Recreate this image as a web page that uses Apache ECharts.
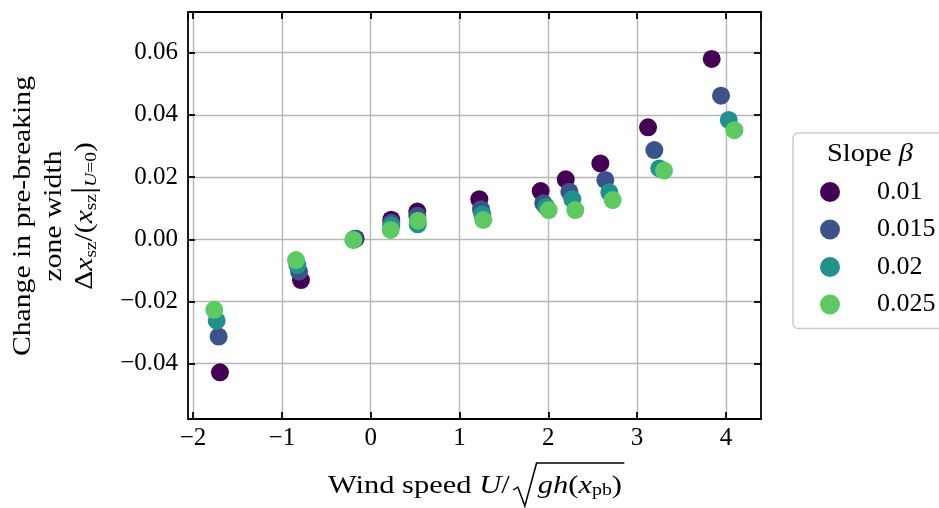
<!DOCTYPE html>
<html><head><meta charset="utf-8">
<script src="https://cdn.jsdelivr.net/npm/echarts@6/dist/echarts.min.js"></script>
<style>html,body{margin:0;padding:0;background:#fff}#c{width:939px;height:508px}</style>
</head><body><div id="c"></div>
<script>
const seriesNames = ['0.01', '0.015', '0.02', '0.025'];
const seriesColors = ['#440154', '#3b528b', '#21918c', '#5ec962'];
const xTickLabels = ['−2', '−1', '0', '1', '2', '3', '4'];
const yTickLabels = ['−0.04', '−0.02', '0.00', '0.02', '0.04', '0.06'];

const x_b010 = [-1.697, -0.785, -0.17, 0.232, 0.525, 1.223, 1.914, 2.196, 2.586, 3.123, 3.840];
const y_b010 = [-0.0428, -0.0131, 0.0002, 0.0063, 0.0089, 0.0129, 0.0155, 0.0193, 0.0244, 0.0360, 0.0580];
const x_b015 = [-1.712, -0.807, -0.18, 0.232, 0.525, 1.242, 1.944, 2.237, 2.642, 3.194, 3.945];
const y_b015 = [-0.0313, -0.0104, 0.0001, 0.0053, 0.0076, 0.0097, 0.0116, 0.0153, 0.0191, 0.0287, 0.0462];
const x_b020 = [-1.734, -0.826, -0.19, 0.232, 0.530, 1.257, 1.974, 2.270, 2.687, 3.250, 4.032];
const y_b020 = [-0.0262, -0.0083, -0.0001, 0.0044, 0.0048, 0.0080, 0.0105, 0.0129, 0.0151, 0.0228, 0.0384];
const x_b025 = [-1.761, -0.841, -0.196, 0.225, 0.533, 1.268, 2.004, 2.304, 2.725, 3.303, 4.095];
const y_b025 = [-0.0227, -0.0067, -0.0002, 0.0030, 0.0060, 0.0062, 0.0094, 0.0094, 0.0126, 0.0221, 0.0351];

const xsAll = [x_b010, x_b015, x_b020, x_b025];
const ysAll = [y_b010, y_b015, y_b020, y_b025];

const FONT = '"Liberation Serif", "DejaVu Serif", serif';
const TFS = 25;   // tick labels
const LFS = 26;   // legend labels
const AFS = 26;   // axis titles
const SFS = 17;   // subscripts

function fmtX(v) {
  const i = Math.round(v) + 2;
  return (Math.abs(v - Math.round(v)) < 1e-6 && xTickLabels[i] !== undefined) ? xTickLabels[i] : '';
}
function fmtY(v) {
  const i = Math.round(v / 0.02) + 2;
  return (Math.abs(v / 0.02 - Math.round(v / 0.02)) < 1e-6 && yTickLabels[i] !== undefined) ? yTickLabels[i] : '';
}

const chart = echarts.init(document.getElementById('c'), null, {renderer: 'canvas'});

const cvs = document.createElement('canvas').getContext('2d');
function measure(parts) {
  let w = 0;
  parts.forEach(p => { cvs.font = p[1]; w += cvs.measureText(p[0]).width; });
  return w;
}
const fN = AFS + 'px ' + FONT;
const fI = 'italic ' + AFS + 'px ' + FONT;
const fS = SFS + 'px ' + FONT;

// x title metrics (local, unscaled)
const leftW = measure([['Wind speed ', fN], ['U', fI], ['/', fN]]);
const radW = 24;
const rightW = measure([['gh', fI], ['(', fN], ['x', fI], ['pb', fS], [')', fN]]);
const totalW = leftW + radW + rightW;
const xScale = 294 / totalW;
const lx0 = -totalW / 2;
const rx = lx0 + leftW;
const baseY = 0;
// y title metrics
const line1W = measure([['Change in pre-breaking', fN]]);
const yScale = 280 / line1W;
// legend title
const titleW = measure([['Slope ', '26px ' + FONT], ['β', 'italic 26px ' + FONT]]);
const tScale = 86 / titleW;

const axisLineStyle = {color: '#000', width: 1.8};
const gridLineStyle = {color: '#b7b7b7', width: 1.4};

const option = {
  animation: false,
  backgroundColor: '#fff',
  textStyle: {fontFamily: FONT},
  grid: {left: 188, top: 12, width: 573, height: 407, containLabel: false},
  xAxis: [{
    type: 'value', position: 'bottom', min: -2.057, max: 4.395, splitNumber: 6,
    axisLine: {show: true, onZero: false, lineStyle: axisLineStyle},
    axisTick: {show: true, inside: true, length: 7, lineStyle: axisLineStyle},
    axisLabel: {show: true, margin: 7, fontSize: TFS, color: '#000', fontFamily: FONT, formatter: fmtX, showMinLabel: false, showMaxLabel: false},
    splitLine: {show: true, showMinLine: false, showMaxLine: false, lineStyle: gridLineStyle}
  }, {
    type: 'value', position: 'top', min: -2.057, max: 4.395, splitNumber: 6,
    axisLine: {show: true, onZero: false, lineStyle: axisLineStyle},
    axisTick: {show: true, inside: true, length: 7, lineStyle: axisLineStyle},
    axisLabel: {show: false}, splitLine: {show: false}
  }],
  yAxis: [{
    type: 'value', position: 'left', min: -0.0578, max: 0.0731, splitNumber: 6,
    axisLine: {show: true, onZero: false, lineStyle: axisLineStyle},
    axisTick: {show: true, inside: true, length: 7, lineStyle: axisLineStyle},
    axisLabel: {show: true, margin: 10, fontSize: TFS, color: '#000', fontFamily: FONT, formatter: fmtY, showMinLabel: false, showMaxLabel: false},
    splitLine: {show: true, showMinLine: false, showMaxLine: false, lineStyle: gridLineStyle}
  }, {
    type: 'value', position: 'right', min: -0.0578, max: 0.0731, splitNumber: 6,
    axisLine: {show: true, onZero: false, lineStyle: axisLineStyle},
    axisTick: {show: true, inside: true, length: 7, lineStyle: axisLineStyle},
    axisLabel: {show: false}, splitLine: {show: false}
  }],
  legend: {
    orient: 'vertical', left: 793, top: 133,
    padding: [46, 16, 11, 27],
    itemGap: 11.5, itemWidth: 20, itemHeight: 20, icon: 'circle',
    backgroundColor: '#fff', borderColor: '#cccccc', borderWidth: 1.5, borderRadius: 5,
    textStyle: {fontSize: LFS, fontFamily: FONT, color: '#000', lineHeight: 20, padding: [0, 0, 0, 32]},
    data: seriesNames
  },
  series: seriesNames.map((n, k) => ({
    name: n, type: 'scatter', symbol: 'circle', symbolSize: 18,
    itemStyle: {color: seriesColors[k], opacity: 1},
    emphasis: {disabled: true},
    data: xsAll[k].map((x, i) => [x, ysAll[k][i]])
  })),
  graphic: [
    {
      type: 'text', x: 870, y: 154, z: 100, scaleX: tScale,
      style: {
        text: 'Slope {i|β}', fontSize: 26, fontFamily: FONT, fill: '#000', align: 'center', verticalAlign: 'middle',
        rich: {i: {fontSize: 26, fontStyle: 'italic', fontFamily: FONT}}
      }
    },
    {
      type: 'text', x: 54, y: 216, rotation: Math.PI / 2, scaleX: yScale,
      style: {
        text: 'Change in pre-breaking\nzone width\nΔ{i|x}{s|sz}/({i|x}{s|sz}{b||}{si|U}{s|=0})',
        fontSize: AFS, fontFamily: FONT, fill: '#000', align: 'center', verticalAlign: 'middle', lineHeight: 31,
        rich: {
          i: {fontSize: AFS, fontStyle: 'italic', fontFamily: FONT, lineHeight: 31},
          s: {fontSize: SFS, fontFamily: FONT, verticalAlign: 'bottom', lineHeight: 20},
          si: {fontSize: SFS, fontStyle: 'italic', fontFamily: FONT, verticalAlign: 'bottom', lineHeight: 20},
          b: {fontSize: 32, fontFamily: FONT, lineHeight: 31}
        }
      }
    },
    {
      type: 'group', x: 475, y: 486, scaleX: xScale,
      children: [
        {
          type: 'text', x: rx, y: baseY,
          style: {
            text: 'Wind speed {i|U}/', fontSize: AFS, fontFamily: FONT, fill: '#000', align: 'right', verticalAlign: 'middle',
            rich: {i: {fontSize: AFS, fontStyle: 'italic', fontFamily: FONT}}
          }
        },
        {
          type: 'text', x: rx + radW, y: baseY,
          style: {
            text: '{i|gh}({i|x}{s|pb})', fontSize: AFS, fontFamily: FONT, fill: '#000', align: 'left', verticalAlign: 'middle',
            rich: {
              i: {fontSize: AFS, fontStyle: 'italic', fontFamily: FONT},
              s: {fontSize: SFS, fontFamily: FONT, verticalAlign: 'bottom', lineHeight: 22}
            }
          }
        },
        {
          type: 'polyline',
          shape: {points: [[rx + 3, baseY + 4], [rx + 7, baseY + 1], [rx + 13, baseY + 20], [rx + 23, baseY - 23], [rx + radW + rightW + 2, baseY - 23]]},
          style: {stroke: '#000', lineWidth: 1.3, fill: null}
        }
      ]
    }
  ]
};
chart.setOption(option);
</script>
</body></html>
